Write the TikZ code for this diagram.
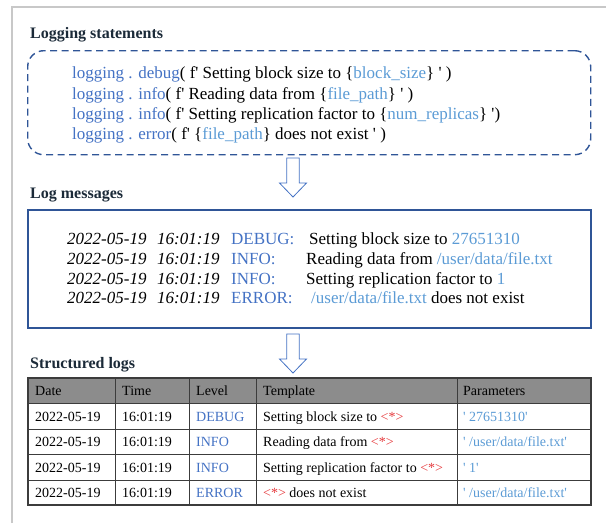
\documentclass[tikz,border=0pt]{standalone}
\usepackage{fontspec}
\setmainfont{Liberation Serif}[Ligatures=TeXOff]
\definecolor{kwblue}{HTML}{4472C4}
\definecolor{varblue}{HTML}{5B9BD5}
\definecolor{boxblue}{HTML}{2F5597}
\definecolor{starred}{HTML}{E5383B}
\definecolor{titlecol}{HTML}{1B2A38}
\definecolor{framegray}{HTML}{C8C8C8}
\definecolor{headgray}{HTML}{8C8C8C}
\definecolor{gridgray}{HTML}{3C3C3C}
\newcommand{\kw}[1]{\textcolor{kwblue}{#1}}
\newcommand{\vv}[1]{\textcolor{varblue}{#1}}
\newcommand{\wild}{\textcolor{starred}{<*>}}
\begin{document}
\begin{tikzpicture}[x=1pt,y=-1pt,
  title/.style={anchor=base west, inner sep=0pt, text=titlecol,
    font=\fontsize{16}{16}\selectfont\bfseries},
  codeline/.style={anchor=base west, inner sep=0pt,
    font=\fontsize{17}{17}\selectfont},
  logtext/.style={anchor=base west, inner sep=0pt,
    font=\fontsize{17}{17}\selectfont},
  logdate/.style={logtext, font=\fontsize{17}{17}\selectfont\itshape},
  cell/.style={anchor=base west, inner sep=0pt,
    font=\fontsize{14}{14}\selectfont},
  flowarrow/.style={draw=kwblue, fill=white, line width=0.8pt, line join=miter},
  downarrow/.pic={\draw[flowarrow] (-6.3,0) -- (6.3,0) -- (6.3,25) -- (13.5,25)
      -- (0,39) -- (-13.5,25) -- (-6.3,25) -- cycle;}]

\useasboundingbox (0,0) rectangle (606,523);
% page frame
\draw[framegray, line width=1.6pt] (12,523) -- (12,7) -- (606,7);

% ---- logging statements ----
\node[title] (t1) at (30,38) {Logging statements};
\node[draw=boxblue, line width=1.4pt, dash pattern=on 7pt off 4.5pt,
      rounded corners=16pt, anchor=north west, inner sep=0pt,
      minimum width=563pt, minimum height=104pt] (stmts) at (27,50) {};
\node[codeline] (c1) at (72,78) {\kw{logging . debug}( f' Setting block size to \{\vv{block\_size}\} ' )};
\node[codeline] (c2) at (72,99) {\kw{logging . info}( f' Reading data from \{\vv{file\_path}\} ' )};
\node[codeline] (c3) at (72,119) {\kw{logging . info}( f' Setting replication factor to \{\vv{num\_replicas}\} ')};
\node[codeline] (c4) at (72,139) {\kw{logging . error}( f' \{\vv{file\_path}\} does not exist ' )};

\pic at (293,158) {downarrow};

% ---- log messages ----
\node[title] (t2) at (30,198) {Log messages};
\node[draw=boxblue, line width=1.5pt, anchor=north west, inner sep=0pt,
      minimum width=563pt, minimum height=118pt] (logs) at (27,209) {};
\foreach \y/\lv/\mx/\msg [count=\i] in {
    244/DEBUG:/309/{Setting block size to \vv{27651310}},
    264/INFO:/306/{Reading data from \vv{/user/data/file.txt}},
    284/INFO:/306/{Setting replication factor to \vv{1}},
    303/ERROR:/311/{\vv{/user/data/file.txt} does not exist}} {
  \node[logdate] (d\i) at (67,\y) {2022-05-19};
  \node[logdate] (h\i) at (157,\y) {16:01:19};
  \node[logtext, text=kwblue] (l\i) at (231,\y) {\lv};
  \node[logtext] (m\i) at (\mx,\y) {\msg};
}

\pic at (293,334) {downarrow};

% ---- structured logs ----
\node[title] (t3) at (30,368) {Structured logs};
\fill[headgray] (28,378) rectangle (591,403);
\draw[gridgray, line width=0.9pt]
  (28,403) -- (591,403) (28,429) -- (591,429) (28,454) -- (591,454) (28,480) -- (591,480)
  (115,378) -- (115,505) (189,378) -- (189,505) (256,378) -- (256,505) (457,378) -- (457,505);
\draw[gridgray, line width=1.6pt] (28,378) rectangle (591,505);

\node[cell] (hd) at (35,395) {Date};
\node[cell] (ht) at (122,395) {Time};
\node[cell] (hl) at (196,395) {Level};
\node[cell] (hp) at (263,395) {Template};
\node[cell] (hv) at (463,395) {Parameters};
\foreach \y/\lv/\tpl/\pv [count=\i] in {
    421/DEBUG/{Setting block size to \wild}/{' 27651310'},
    446/INFO/{Reading data from \wild}/{' /user/data/file.txt'},
    472/INFO/{Setting replication factor to \wild}/{' 1'},
    497/ERROR/{\wild{} does not exist}/{' /user/data/file.txt'}} {
  \node[cell] (rd\i) at (35,\y) {2022-05-19};
  \node[cell] (rt\i) at (122,\y) {16:01:19};
  \node[cell, text=kwblue] (rl\i) at (196,\y) {\lv};
  \node[cell] (rp\i) at (263,\y) {\tpl};
  \node[cell, text=varblue] (rv\i) at (463,\y) {\pv};
}
\end{tikzpicture}
\end{document}
